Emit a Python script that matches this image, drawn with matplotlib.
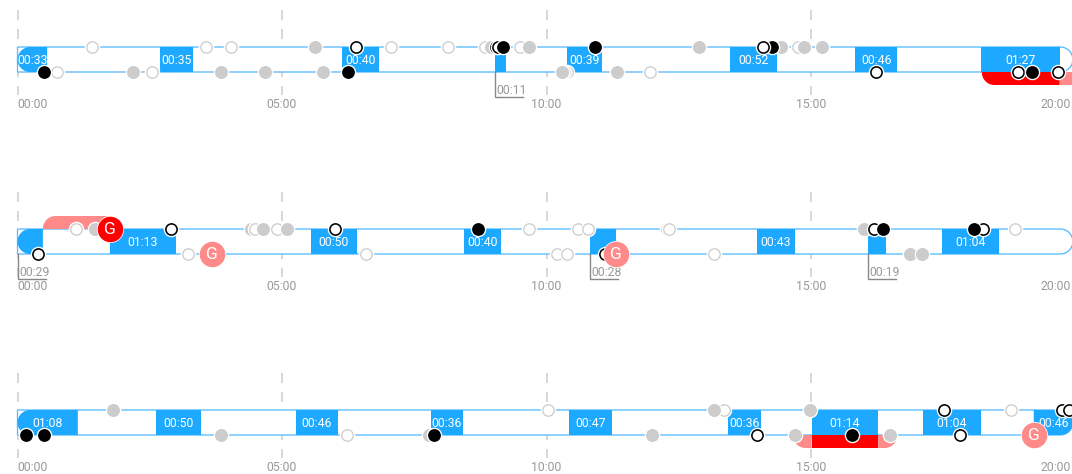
import matplotlib
matplotlib.use("Agg")
import matplotlib.pyplot as plt
from matplotlib.patches import PathPatch, Rectangle
from matplotlib.path import Path

# everything on the time axis is in minutes
tick_minutes = [0, 5, 10, 15, 20]
tick_labels = ["00:00", "05:00", "10:00", "15:00", "20:00"]
track_end = 19.95

# blue blocks: start, end, label
r1_starts = [0, 2.70, 6.14, 9.03, 10.38, 13.46, 15.84, 18.21]
r1_ends = [0.56, 3.32, 6.83, 9.23, 11.05, 14.36, 16.63, 19.70]
r1_labels = ["00:33", "00:35", "00:40", "00:11", "00:39", "00:52", "00:46", "01:27"]

r2_starts = [0, 1.74, 5.55, 8.44, 10.82, 13.97, 16.07, 17.47]
r2_ends = [0.48, 2.99, 6.41, 9.14, 11.31, 14.70, 16.42, 18.56]
r2_labels = ["00:29", "01:13", "00:50", "00:40", "00:28", "00:43", "00:19", "01:04"]

r3_starts = [0, 2.62, 5.26, 7.81, 10.43, 13.44, 15.01, 17.12, 19.21]
r3_ends = [1.14, 3.47, 6.06, 8.43, 11.23, 14.06, 16.27, 18.21, 19.95]
r3_labels = ["01:08", "00:50", "00:46", "00:36", "00:47", "00:36", "01:14", "01:04", "00:46"]

# h = hollow grey, g = grey, o = black ring, b = black, G = red goal, P = pink goal
# listed in drawing order
r1_top_t = [1.41, 3.56, 4.03, 5.63, 6.40, 7.06, 8.13, 8.84, 8.96, 9.05, 9.08, 9.18, 9.50, 9.67, 10.91,
            12.88, 14.43, 14.26, 14.09, 14.76, 14.87, 15.21]
r1_top_k = "hhhgohhhgoobhgbggbohgg"
r1_bot_t = [0.74, 0.51, 2.19, 2.55, 3.84, 4.67, 5.78, 6.24, 10.38, 10.34, 10.29, 11.33, 11.96, 16.23,
            18.91, 19.18, 19.66]
r1_bot_k = "hbghgggbhhgghoobo"

r2_top_t = [1.11, 1.46, 1.75, 2.91, 4.41, 4.49, 4.65, 4.90, 5.09, 6.00, 8.71, 9.66, 10.60, 10.78,
            12.27, 12.32, 16.01, 16.20, 16.37, 18.26, 18.09, 18.86]
r2_top_k = "hgGoghghgobhhhhhgobobh"
r2_bot_t = [0.39, 3.22, 3.68, 6.59, 10.19, 10.39, 11.11, 11.31, 13.17, 16.88, 17.10]
r2_bot_k = "ohPhhhoPhgg"

r3_top_t = [1.81, 10.03, 13.35, 13.16, 14.98, 17.52, 18.79, 19.74, 19.88]
r3_top_k = "ghhggohoo"
r3_bot_t = [0.17, 0.50, 3.84, 6.22, 7.78, 7.87, 12.00, 13.98, 14.70, 15.78, 16.50, 17.81, 19.21]
r3_bot_k = "bbghgbgogbgoP"

# red bands below / above the track: start, end
r1_red = [(18.23, 19.70)]
r1_pink = [(19.70, 20.0)]
r2_pink_top = [(0.48, 1.75)]
r3_red = [(15.01, 16.27)]
r3_pink = [(14.66, 15.01), (16.27, 16.63)]

# leader labels for blocks too small to hold text
r1_leaders = ["00:11"]
r2_leaders = ["00:29", "00:28", "00:19"]

BLUE = "#1ca9ff"
LINE = "#55bbff"
GREY = "#cccccc"
TXT = "#999999"
RED = "#ff0000"
PINK = "#ff8a8a"
FONT = "Roboto"
FS = 8.8

W, H = 1072, 474
ROW_H = 111
PX_MIN = 52.9
PX_UNIT = 25.0  # one track spacing


def px(v):
    return v * 72 / 100


def rounded(ax, x0, x1, y0, y1, corners, **kw):
    # corners is a string of bl br tr tl, radius is half the track height
    rx = 12.5 / PX_MIN
    ry = 12.5 / PX_UNIT
    k = 0.45  # control point distance from the corner, makes a near circular arc
    v = []
    c = []

    def go(p, code):
        v.append(p)
        c.append(code)

    def curve(a, b, d):
        go(a, Path.CURVE4)
        go(b, Path.CURVE4)
        go(d, Path.CURVE4)

    if "bl" in corners:
        go((x0, y0 + ry), Path.MOVETO)
        curve((x0, y0 + ry * k), (x0 + rx * k, y0), (x0 + rx, y0))
    else:
        go((x0, y0), Path.MOVETO)
    if "br" in corners:
        go((x1 - rx, y0), Path.LINETO)
        curve((x1 - rx * k, y0), (x1, y0 + ry * k), (x1, y0 + ry))
    else:
        go((x1, y0), Path.LINETO)
    if "tr" in corners:
        go((x1, y1 - ry), Path.LINETO)
        curve((x1, y1 - ry * k), (x1 - rx * k, y1), (x1 - rx, y1))
    else:
        go((x1, y1), Path.LINETO)
    if "tl" in corners:
        go((x0 + rx, y1), Path.LINETO)
        curve((x0 + rx * k, y1), (x0, y1 - ry * k), (x0, y1 - ry))
    else:
        go((x0, y1), Path.LINETO)
    go((x0, y0), Path.CLOSEPOLY)
    ax.add_patch(PathPatch(Path(v, c), **kw))


def draw_markers(ax, times, kinds, y, z):
    halo = (px(15.5)) ** 2
    for t, k in zip(times, kinds):
        if k in "GP":
            col = RED if k == "G" else PINK
            ax.scatter([t], [y], s=px(27) ** 2, c="white", lw=0, zorder=z)
            ax.scatter([t], [y], s=px(25.5) ** 2, c=col, lw=0, zorder=z)
            ax.text(t, y - 0.02, "G", color="white", fontsize=12.5, ha="center", va="center",
                    family=FONT, zorder=z)
        else:
            ax.scatter([t], [y], s=halo, c="white", lw=0, zorder=z)
            if k == "h":
                ax.scatter([t], [y], s=px(11.4) ** 2, c="white", edgecolors=GREY, lw=px(1.3), zorder=z)
            elif k == "g":
                ax.scatter([t], [y], s=px(13) ** 2, c=GREY, lw=0, zorder=z)
            elif k == "o":
                ax.scatter([t], [y], s=px(11.2) ** 2, c="white", edgecolors="black", lw=px(1.6), zorder=z)
            else:
                ax.scatter([t], [y], s=px(12.8) ** 2, c="black", lw=0, zorder=z)
        z += 0.01


def draw_row(top_px, starts, ends, labels, top, bottom, leaders=(), red=(), pink=(), pink_top=(),
             round_last=False):
    ax = fig.add_axes([0, 1 - (top_px + ROW_H) / H, 1, ROW_H / H])
    ax.set_xlim(-17.5 / PX_MIN, (W - 17.5) / PX_MIN)
    y_top = 1 + 47 / PX_UNIT
    ax.set_ylim(y_top - ROW_H / PX_UNIT, y_top)
    ax.axis("off")

    # dashed time grid, drawn from the top so the dashes start at the same place in each row
    for m in tick_minutes:
        ax.plot([m, m], [2.48, -0.92], color=GREY, lw=px(1.5), dashes=(6.67, 6), zorder=1)

    # track outline with round right end, white inside hides the grid
    rounded(ax, 0, track_end, 0, 1, "br tr", fc="white", ec=LINE, lw=px(1.3), zorder=2)

    for x0, x1 in pink_top:
        rounded(ax, x0, x1, 1, 1.52, "tl", fc=PINK, ec="none", zorder=3)
    for x0, x1 in pink:
        if x1 >= track_end:
            corners = ""
        elif x1 < 15.5:
            corners = "bl"
        else:
            corners = "br"
        rounded(ax, x0, x1, -0.52, 0, corners, fc=PINK, ec="none", zorder=3)
    for x0, x1 in red:
        rounded(ax, x0, x1, -0.52, 0, "bl" if x1 > 19 else "", fc=RED, ec="none", zorder=3.1)

    for i, (s, e, lab) in enumerate(zip(starts, ends, labels)):
        last = i == len(starts) - 1
        if i == 0:
            rounded(ax, s, e, 0, 1, "bl tl", fc=BLUE, ec="none", zorder=4)
        elif last and round_last:
            rounded(ax, s, e, 0, 1, "br", fc=BLUE, ec="none", zorder=4)
        else:
            ax.add_patch(Rectangle((s, 0), e - s, 1, fc=BLUE, ec="none", zorder=4))
        if lab in leaders and (e - s) < 0.6:
            # small block, label goes below with a leader line
            ax.plot([s, s, s + 28 / PX_MIN], [0, -1.0, -1.0], color="#888888", lw=px(1.4), zorder=4.5,
                    solid_joinstyle="miter")
            ax.text(s + 0.03, -0.76, lab, color=TXT, fontsize=FS, family=FONT,
                    ha="left", va="center", zorder=4.5)
        else:
            ax.text((s + e) / 2, 0.45, lab, color="white", fontsize=FS, family=FONT,
                    ha="center", va="center", zorder=5)

    draw_markers(ax, bottom[0], bottom[1], 0, 6)
    draw_markers(ax, top[0], top[1], 1, 7)

    for m, lab in zip(tick_minutes, tick_labels):
        ha = "center"
        tx = m
        if m == tick_minutes[0]:
            ha = "left"
        elif m == tick_minutes[-1]:
            # keep the whole label inside the picture
            ha = "right"
            tx = m - 4.5 / PX_MIN
        ax.text(tx, -1.29, lab, color=TXT, fontsize=FS, family=FONT, ha=ha, va="center", zorder=8)


fig = plt.figure(figsize=(W / 100, H / 100), dpi=100, facecolor="white")

draw_row(0, r1_starts, r1_ends, r1_labels, (r1_top_t, r1_top_k), (r1_bot_t, r1_bot_k),
         leaders=r1_leaders, red=r1_red, pink=r1_pink)
draw_row(182, r2_starts, r2_ends, r2_labels, (r2_top_t, r2_top_k), (r2_bot_t, r2_bot_k),
         leaders=r2_leaders, pink_top=r2_pink_top)
draw_row(363, r3_starts, r3_ends, r3_labels, (r3_top_t, r3_top_k), (r3_bot_t, r3_bot_k),
         red=r3_red, pink=r3_pink, round_last=True)

fig.savefig("out.png", dpi=100)
